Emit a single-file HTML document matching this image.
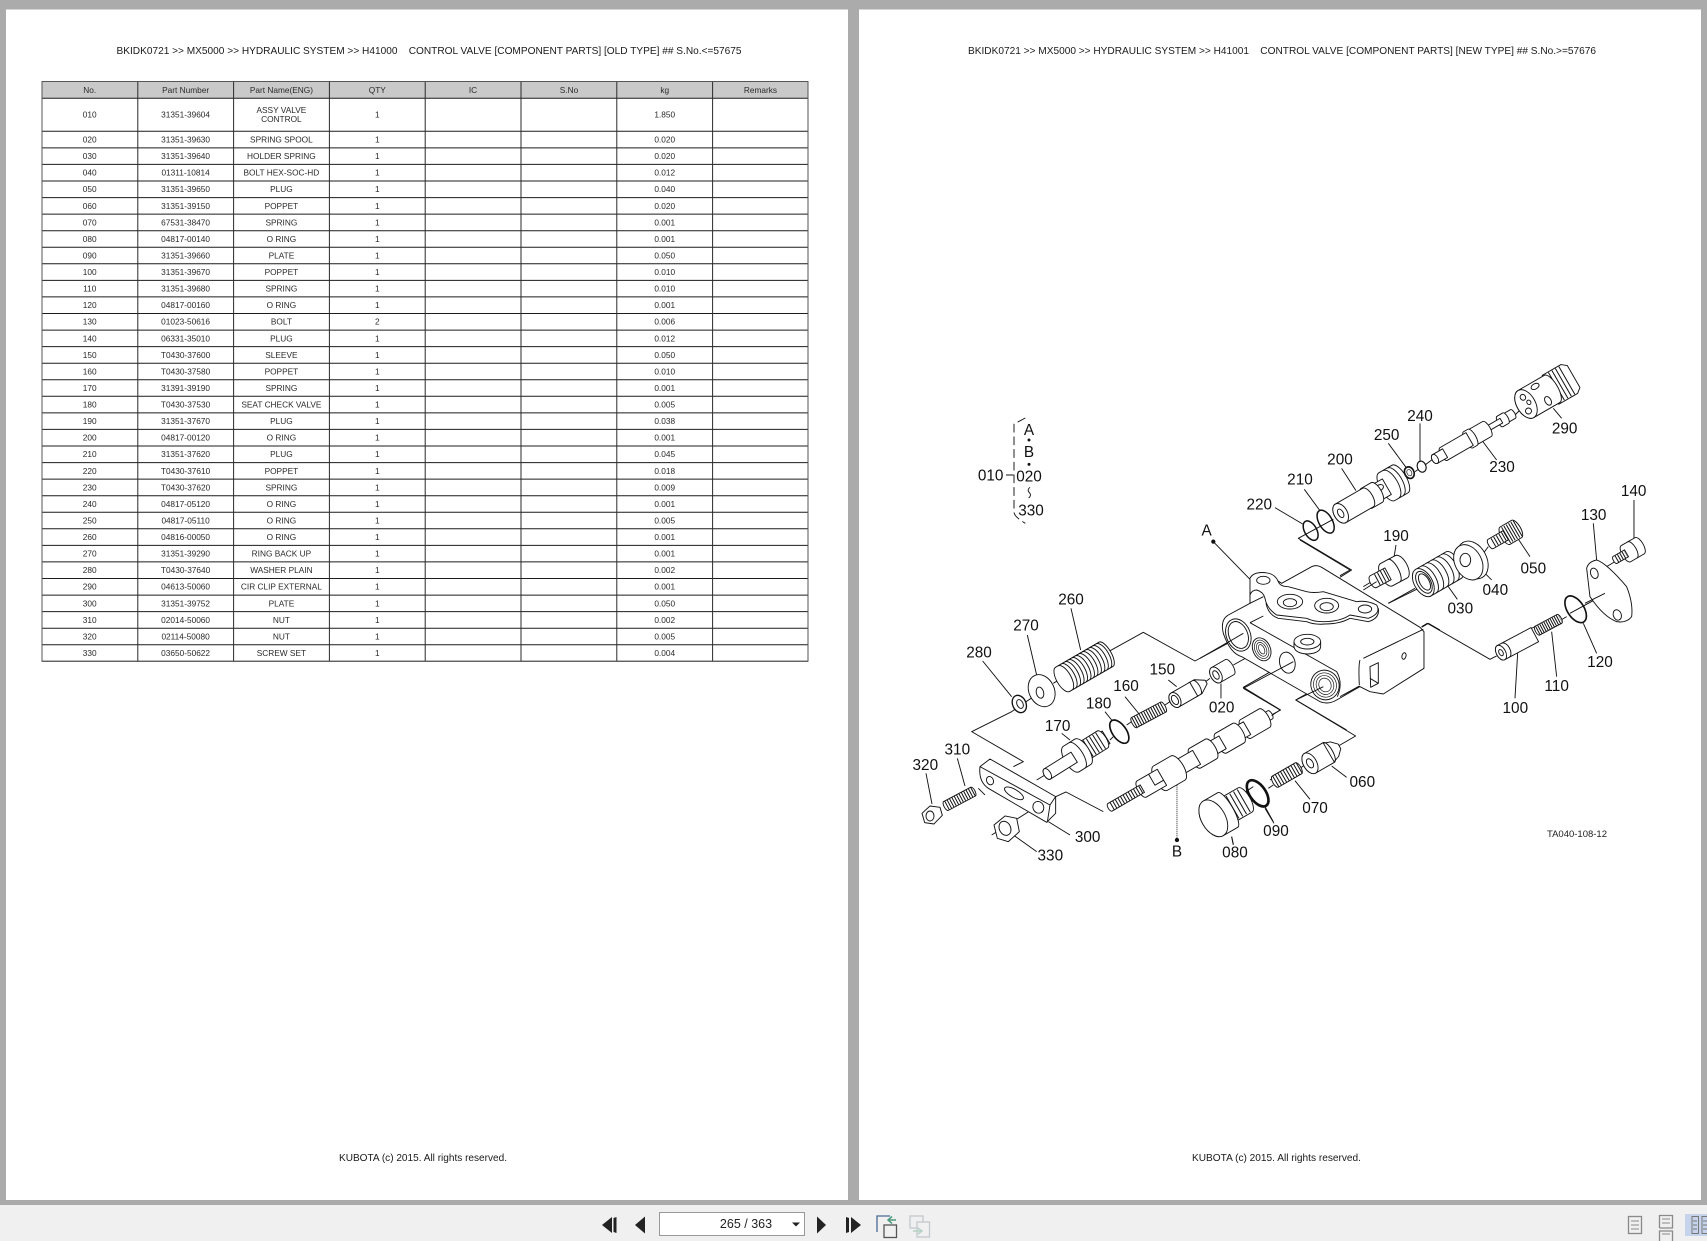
<!DOCTYPE html>
<html><head><meta charset="utf-8"><style>
html,body{margin:0;padding:0;width:1707px;height:1241px;overflow:hidden;background:#ababab}
svg{position:absolute;left:0;top:0;filter:blur(.3px)}
text{font-family:"Liberation Sans",sans-serif}
.t text{font-size:8.3px;fill:#2a2a2a;text-anchor:middle}
.h{font-size:10.4px;fill:#1a1a1a}
.d path,.d ellipse,.d circle,.d polygon{fill:#fff;stroke:#111;stroke-width:2.8;stroke-linejoin:round}
.d .n{fill:none}
.d .k{fill:none;stroke-width:5}
.d .x{fill:none;stroke-width:8}
.d text{font-size:46px;fill:#111;text-anchor:middle;stroke:none}
</style></head><body>
<svg width="1707" height="1241" viewBox="0 0 1707 1241" xmlns="http://www.w3.org/2000/svg">
<rect x="6" y="9.500" width="842" height="1190.500" fill="#fff"/>
<rect x="859" y="9.500" width="842" height="1190.500" fill="#fff"/>
<rect x="0" y="1205" width="1707" height="36" fill="#f0f0f0"/>

<text class="h" x="116.500" y="54" textLength="625" lengthAdjust="spacingAndGlyphs">BKIDK0721 &gt;&gt; MX5000 &gt;&gt; HYDRAULIC SYSTEM &gt;&gt; H41000&#160;&#160;&#160; CONTROL VALVE [COMPONENT PARTS] [OLD TYPE] ## S.No.&lt;=57675</text>
<text class="h" x="968" y="54" textLength="628" lengthAdjust="spacingAndGlyphs">BKIDK0721 &gt;&gt; MX5000 &gt;&gt; HYDRAULIC SYSTEM &gt;&gt; H41001&#160;&#160;&#160; CONTROL VALVE [COMPONENT PARTS] [NEW TYPE] ## S.No.&gt;=57676</text>
<text class="h" x="339" y="1161" textLength="168" lengthAdjust="spacingAndGlyphs">KUBOTA (c) 2015. All rights reserved.</text>
<text class="h" x="1192" y="1161" textLength="169" lengthAdjust="spacingAndGlyphs">KUBOTA (c) 2015. All rights reserved.</text>

<rect x="42" y="81.500" width="766" height="17" fill="#c9c9c9"/>
<path fill="none" stroke="#1c1c1c" stroke-width="1" d="M42 98.300H808M42 131.300H808M42 147.900H808M42 164.400H808M42 181H808M42 197.600H808M42 214.100H808M42 230.700H808M42 247.200H808M42 263.800H808M42 280.400H808M42 296.900H808M42 313.500H808M42 330.100H808M42 346.600H808M42 363.200H808M42 379.800H808M42 396.300H808M42 412.900H808M42 429.400H808M42 446H808M42 462.600H808M42 479.100H808M42 495.700H808M42 512.300H808M42 528.800H808M42 545.400H808M42 561.900H808M42 578.500H808M42 595.100H808M42 611.600H808M42 628.200H808M42 644.800H808M42 661.300H808"/>
<path fill="none" stroke="#2a2a2a" stroke-width="1" d="M137.800 81.500V661.300M233.600 81.500V661.300M329.400 81.500V661.300M425.200 81.500V661.300M521 81.500V661.300M616.800 81.500V661.300M712.600 81.500V661.300"/>
<path fill="none" stroke="#555" stroke-width="1" d="M42 81.500H808V661.300H42Z"/>
<g class="t">
<text y="92.800"><tspan x="89.700">No.</tspan><tspan x="185.600">Part Number</tspan><tspan x="281.400">Part Name(ENG)</tspan><tspan x="377.300">QTY</tspan><tspan x="473">IC</tspan><tspan x="569">S.No</tspan><tspan x="664.700">kg</tspan><tspan x="760.500">Remarks</tspan></text>
<text y="117.500"><tspan x="89.700">010</tspan><tspan x="185.600">31351-39604</tspan><tspan x="377.300">1</tspan><tspan x="664.700">1.850</tspan></text>
<text x="281.400" y="113">ASSY VALVE</text><text x="281.400" y="122">CONTROL</text>
<text y="142.500"><tspan x="89.700">020</tspan><tspan x="185.600">31351-39630</tspan><tspan x="281.400">SPRING SPOOL</tspan><tspan x="377.300">1</tspan><tspan x="664.700">0.020</tspan></text>
<text y="159.100"><tspan x="89.700">030</tspan><tspan x="185.600">31351-39640</tspan><tspan x="281.400">HOLDER SPRING</tspan><tspan x="377.300">1</tspan><tspan x="664.700">0.020</tspan></text>
<text y="175.600"><tspan x="89.700">040</tspan><tspan x="185.600">01311-10814</tspan><tspan x="281.400">BOLT HEX-SOC-HD</tspan><tspan x="377.300">1</tspan><tspan x="664.700">0.012</tspan></text>
<text y="192.200"><tspan x="89.700">050</tspan><tspan x="185.600">31351-39650</tspan><tspan x="281.400">PLUG</tspan><tspan x="377.300">1</tspan><tspan x="664.700">0.040</tspan></text>
<text y="208.800"><tspan x="89.700">060</tspan><tspan x="185.600">31351-39150</tspan><tspan x="281.400">POPPET</tspan><tspan x="377.300">1</tspan><tspan x="664.700">0.020</tspan></text>
<text y="225.300"><tspan x="89.700">070</tspan><tspan x="185.600">67531-38470</tspan><tspan x="281.400">SPRING</tspan><tspan x="377.300">1</tspan><tspan x="664.700">0.001</tspan></text>
<text y="241.900"><tspan x="89.700">080</tspan><tspan x="185.600">04817-00140</tspan><tspan x="281.400">O RING</tspan><tspan x="377.300">1</tspan><tspan x="664.700">0.001</tspan></text>
<text y="258.400"><tspan x="89.700">090</tspan><tspan x="185.600">31351-39660</tspan><tspan x="281.400">PLATE</tspan><tspan x="377.300">1</tspan><tspan x="664.700">0.050</tspan></text>
<text y="275"><tspan x="89.700">100</tspan><tspan x="185.600">31351-39670</tspan><tspan x="281.400">POPPET</tspan><tspan x="377.300">1</tspan><tspan x="664.700">0.010</tspan></text>
<text y="291.600"><tspan x="89.700">110</tspan><tspan x="185.600">31351-39680</tspan><tspan x="281.400">SPRING</tspan><tspan x="377.300">1</tspan><tspan x="664.700">0.010</tspan></text>
<text y="308.100"><tspan x="89.700">120</tspan><tspan x="185.600">04817-00160</tspan><tspan x="281.400">O RING</tspan><tspan x="377.300">1</tspan><tspan x="664.700">0.001</tspan></text>
<text y="324.700"><tspan x="89.700">130</tspan><tspan x="185.600">01023-50616</tspan><tspan x="281.400">BOLT</tspan><tspan x="377.300">2</tspan><tspan x="664.700">0.006</tspan></text>
<text y="341.300"><tspan x="89.700">140</tspan><tspan x="185.600">06331-35010</tspan><tspan x="281.400">PLUG</tspan><tspan x="377.300">1</tspan><tspan x="664.700">0.012</tspan></text>
<text y="357.800"><tspan x="89.700">150</tspan><tspan x="185.600">T0430-37600</tspan><tspan x="281.400">SLEEVE</tspan><tspan x="377.300">1</tspan><tspan x="664.700">0.050</tspan></text>
<text y="374.400"><tspan x="89.700">160</tspan><tspan x="185.600">T0430-37580</tspan><tspan x="281.400">POPPET</tspan><tspan x="377.300">1</tspan><tspan x="664.700">0.010</tspan></text>
<text y="390.900"><tspan x="89.700">170</tspan><tspan x="185.600">31391-39190</tspan><tspan x="281.400">SPRING</tspan><tspan x="377.300">1</tspan><tspan x="664.700">0.001</tspan></text>
<text y="407.500"><tspan x="89.700">180</tspan><tspan x="185.600">T0430-37530</tspan><tspan x="281.400">SEAT CHECK VALVE</tspan><tspan x="377.300">1</tspan><tspan x="664.700">0.005</tspan></text>
<text y="424.100"><tspan x="89.700">190</tspan><tspan x="185.600">31351-37670</tspan><tspan x="281.400">PLUG</tspan><tspan x="377.300">1</tspan><tspan x="664.700">0.038</tspan></text>
<text y="440.600"><tspan x="89.700">200</tspan><tspan x="185.600">04817-00120</tspan><tspan x="281.400">O RING</tspan><tspan x="377.300">1</tspan><tspan x="664.700">0.001</tspan></text>
<text y="457.200"><tspan x="89.700">210</tspan><tspan x="185.600">31351-37620</tspan><tspan x="281.400">PLUG</tspan><tspan x="377.300">1</tspan><tspan x="664.700">0.045</tspan></text>
<text y="473.800"><tspan x="89.700">220</tspan><tspan x="185.600">T0430-37610</tspan><tspan x="281.400">POPPET</tspan><tspan x="377.300">1</tspan><tspan x="664.700">0.018</tspan></text>
<text y="490.300"><tspan x="89.700">230</tspan><tspan x="185.600">T0430-37620</tspan><tspan x="281.400">SPRING</tspan><tspan x="377.300">1</tspan><tspan x="664.700">0.009</tspan></text>
<text y="506.900"><tspan x="89.700">240</tspan><tspan x="185.600">04817-05120</tspan><tspan x="281.400">O RING</tspan><tspan x="377.300">1</tspan><tspan x="664.700">0.001</tspan></text>
<text y="523.400"><tspan x="89.700">250</tspan><tspan x="185.600">04817-05110</tspan><tspan x="281.400">O RING</tspan><tspan x="377.300">1</tspan><tspan x="664.700">0.005</tspan></text>
<text y="540"><tspan x="89.700">260</tspan><tspan x="185.600">04816-00050</tspan><tspan x="281.400">O RING</tspan><tspan x="377.300">1</tspan><tspan x="664.700">0.001</tspan></text>
<text y="556.600"><tspan x="89.700">270</tspan><tspan x="185.600">31351-39290</tspan><tspan x="281.400">RING BACK UP</tspan><tspan x="377.300">1</tspan><tspan x="664.700">0.001</tspan></text>
<text y="573.100"><tspan x="89.700">280</tspan><tspan x="185.600">T0430-37640</tspan><tspan x="281.400">WASHER PLAIN</tspan><tspan x="377.300">1</tspan><tspan x="664.700">0.002</tspan></text>
<text y="589.700"><tspan x="89.700">290</tspan><tspan x="185.600">04613-50060</tspan><tspan x="281.400">CIR CLIP EXTERNAL</tspan><tspan x="377.300">1</tspan><tspan x="664.700">0.001</tspan></text>
<text y="606.300"><tspan x="89.700">300</tspan><tspan x="185.600">31351-39752</tspan><tspan x="281.400">PLATE</tspan><tspan x="377.300">1</tspan><tspan x="664.700">0.050</tspan></text>
<text y="622.800"><tspan x="89.700">310</tspan><tspan x="185.600">02014-50060</tspan><tspan x="281.400">NUT</tspan><tspan x="377.300">1</tspan><tspan x="664.700">0.002</tspan></text>
<text y="639.400"><tspan x="89.700">320</tspan><tspan x="185.600">02114-50080</tspan><tspan x="281.400">NUT</tspan><tspan x="377.300">1</tspan><tspan x="664.700">0.005</tspan></text>
<text y="655.900"><tspan x="89.700">330</tspan><tspan x="185.600">03650-50622</tspan><tspan x="281.400">SCREW SET</tspan><tspan x="377.300">1</tspan><tspan x="664.700">0.004</tspan></text>
</g>

<!-- Z2: upper-left callouts -->
<g class="d" transform="translate(960,360) scale(.3333)">
<path class="n" stroke-dasharray="26 12" d="M196 174L162 192V456Q162 470 196 490"/>
<path class="n" d="M138 345H160M945 443L1028 492M1033 388L1080 452M1145 325L1188 392M760 545L870 658"/>
<circle cx="207" cy="240" r="3" style="fill:#111"/><circle cx="207" cy="313" r="3" style="fill:#111"/><circle cx="760" cy="545" r="5" style="fill:#111"/>
<path class="n" d="M210 382Q200 390 208 398Q216 405 206 414"/>
<path class="n" d="M1120 478L1015 535L1175 630L1140 652"/>
<ellipse class="k" style="stroke-width:4.500" cx="1052" cy="512" rx="18" ry="32" transform="rotate(-30 1052 512)"/>
<ellipse class="k" style="stroke-width:4.500" cx="1097" cy="485" rx="20" ry="38" transform="rotate(-30 1097 485)"/>
<text x="92" y="361">010</text><text x="207" y="364">020</text><text x="213" y="467">330</text>
<text x="207" y="225">A</text><text x="207" y="291">B</text>
<text x="898" y="449">220</text><text x="1020" y="374">210</text><text x="1140" y="314">200</text><text x="740" y="527">A</text>
</g>

<!-- Z10: part 200 -->
<g class="d" transform="translate(1270,420) scale(.3333)">
<g transform="translate(212,280) rotate(-30)">
<path d="M160 -48H205A20 48 0 0 1 205 48H160A20 48 0 0 1 160 -48Z"/>
<path class="n" d="M175 -47A20 47 0 0 1 175 47M190 -47A20 47 0 0 1 190 47"/>
<path d="M120 -27H160V27H120Z"/>
<ellipse cx="138" cy="-8" rx="14" ry="9"/>
<path d="M90 -34H125A14 34 0 0 1 125 34H90A14 34 0 0 1 90 -34Z"/>
<path d="M0 -32H95A14 32 0 0 1 95 32H0A20 32 0 0 1 0 -32Z"/>
<ellipse cx="0" cy="0" rx="20" ry="32"/><ellipse cx="0" cy="0" rx="8" ry="14"/>
</g>
</g>

<!-- Z3: right parts -->
<g class="d" transform="translate(1340,360) scale(.3333)">
<path class="n" d="M640 145L665 175M425 240L470 300M145 250L198 322M240 190V305M533 880L525 1015M635 815L650 950M730 790L770 880M760 490L770 600M882 420V535M530 530L570 590M420 625L455 660M325 680L352 718M168 555L160 605M262 790L450 898L470 888M245 800L262 790M800 700L690 760M525 165L540 150M255 315L275 300M225 335L235 328M430 580L445 560M340 625L360 610M145 730L225 685M70 680L95 665M585 800L555 815M680 770L660 782M825 605L800 620"/>
<g transform="translate(558,132) rotate(-30)">
<path d="M85 -50H150L165 -38V38L150 50H85Z"/>
<path class="n" style="stroke-width:96;stroke-dasharray:3 9" d="M92 0H150"/>
<path d="M0 -47H90A18 47 0 0 1 90 47H0A28 47 0 0 1 0 -47Z"/>
<ellipse cx="0" cy="0" rx="28" ry="47"/>
<ellipse cx="2" cy="-22" rx="8" ry="9"/><ellipse cx="-4" cy="22" rx="9" ry="9"/><ellipse cx="10" cy="0" rx="6" ry="7"/>
<ellipse cx="50" cy="-32" rx="13" ry="8"/><ellipse cx="62" cy="25" rx="9" ry="14"/>
</g>
<g transform="translate(285,297) rotate(-30)">
<path d="M235 -15H270A6 15 0 0 1 270 15H235Z"/>
<path d="M225 -18H245A7 18 0 0 1 245 18H225A7 18 0 0 1 225 -18Z"/>
<path d="M180 -8H230V8H180Z"/>
<path d="M125 -26H180A10 26 0 0 1 180 26H125A10 26 0 0 1 125 -26Z"/>
<path d="M115 -28H130A10 28 0 0 1 130 28H115A10 28 0 0 1 115 -28Z"/>
<path d="M30 -22H120V22H30A9 22 0 0 1 30 -22Z"/>
<path d="M0 -15H35V15H0A9 15 0 0 1 0 -15Z"/>
<ellipse cx="0" cy="0" rx="9" ry="15"/>
</g>
<ellipse class="k" style="stroke-width:3.500" cx="245" cy="320" rx="13" ry="17" transform="rotate(-20 245 320)"/>
<ellipse class="k" cx="208" cy="338" rx="14" ry="18" transform="rotate(-25 208 338)"/>
<ellipse class="n" style="stroke-width:2" cx="208" cy="338" rx="7" ry="10" transform="rotate(-25 208 338)"/>
<g transform="translate(100,665) rotate(-28)">
<path d="M45 -38H95A18 38 0 0 1 95 38H45A18 38 0 0 1 45 -38Z"/>
<path class="n" d="M70 -38A14 38 0 0 1 70 38"/>
<path d="M0 -20H50V20H0A10 20 0 0 1 0 -20Z"/>
<path class="n" style="stroke-width:36;stroke-dasharray:3 7" d="M12 0H50"/>
</g>
<g transform="translate(250,668) rotate(-30)">
<path d="M0 -46H105A20 46 0 0 1 105 46H0A26 46 0 0 1 0 -46Z"/>
<path class="n" d="M18 -46A22 46 0 0 1 18 46M36 -46A22 46 0 0 1 36 46M54 -46A22 46 0 0 1 54 46M72 -46A22 46 0 0 1 72 46M90 -46A22 46 0 0 1 90 46"/>
<ellipse cx="0" cy="0" rx="27" ry="46"/><ellipse class="n" cx="2" cy="0" rx="20" ry="36"/><ellipse class="n" cx="4" cy="0" rx="14" ry="27"/>
</g>
<ellipse cx="398" cy="600" rx="42" ry="60" transform="rotate(-28 398 600)"/>
<ellipse cx="385" cy="607" rx="40" ry="56" transform="rotate(-28 385 607)"/>
<ellipse cx="376" cy="600" rx="16" ry="20"/>
<g transform="translate(452,552) rotate(-30)">
<path d="M50 -30H90A12 30 0 0 1 90 30H50A12 30 0 0 1 50 -30Z"/>
<path class="n" style="stroke-width:54;stroke-dasharray:3 5" d="M52 0H96"/>
<path d="M0 -16H52V16H0A7 16 0 0 1 0 -16Z"/>
<path class="n" style="stroke-width:28;stroke-dasharray:3 6" d="M8 0H50"/>
</g>
<ellipse class="k" cx="707" cy="748" rx="25" ry="45" transform="rotate(-33 707 748)"/>
<g transform="translate(592,812) rotate(-28)">
<path d="M0 -15H75A6 15 0 0 1 75 15H0A6 15 0 0 1 0 -15Z"/>
<path class="n" style="stroke-width:30;stroke-dasharray:3 4" d="M0 0H78"/>
</g>
<g transform="translate(483,878) rotate(-28)">
<path d="M0 -24H115V24H0A14 24 0 0 1 0 -24Z"/>
<path class="n" d="M15 -24A14 24 0 0 1 15 24"/>
<ellipse cx="0" cy="0" rx="14" ry="24"/><ellipse cx="0" cy="0" rx="6" ry="10"/>
</g>
<path d="M740 625Q745 605 770 600Q800 610 860 680Q880 730 875 770Q860 790 830 785Q790 770 750 710Z"/>
<ellipse cx="763" cy="640" rx="11" ry="16" transform="rotate(-20 763 640)"/><ellipse cx="832" cy="765" rx="12" ry="16" transform="rotate(-20 832 765)"/>
<path class="n" d="M735 730L795 700"/>
<g transform="translate(825,600) rotate(-30)">
<path d="M38 -28H85A12 28 0 0 1 85 28H38A12 28 0 0 1 38 -28Z"/>
<path class="n" d="M60 -28A12 28 0 0 1 60 28"/>
<path d="M0 -12H40V12H0A5 12 0 0 1 0 -12Z"/>
<path class="n" style="stroke-width:22;stroke-dasharray:3 5" d="M5 0H38"/>
</g>
<text x="240" y="183">240</text><text x="140" y="240">250</text><text x="674" y="221">290</text><text x="486" y="336">230</text>
<text x="881" y="408">140</text><text x="761" y="480">130</text><text x="168" y="543">190</text><text x="580" y="640">050</text>
<text x="466" y="705">040</text><text x="361" y="761">030</text><text x="780" y="921">120</text><text x="650" y="993">110</text><text x="526" y="1059">100</text>
</g>

<!-- Z4: lower-left parts -->
<g class="d" transform="translate(910,580) scale(.3333)">
<path class="n" d="M483 85L512 210M352 165L380 285M218 243L305 350M645 350L690 405M585 395L605 420M455 460L480 480M142 535L165 618M48 580L66 672M933 310V355M480 765L415 725M380 815L310 765M1090 725L1065 680M965 770L970 795M775 300L800 320"/>
<path class="n" d="M385 340L305 395L185 455L340 545L310 560M380 600L405 585M437 650L468 636L580 695M1075 410L1112 390L1000 322L1125 250M595 215L700 157L855 243L1000 165M430 310L470 285M650 435L665 425M765 375L780 365M880 310L900 295M600 480L610 470M225 645L205 625M245 765L380 680M1000 640L1030 620M1080 600L1095 590"/>
<path class="n" style="stroke-dasharray:3 3" d="M801 610V775"/>
<circle cx="801" cy="780" r="5" style="fill:#111"/>
<g transform="translate(458,298) rotate(-30)">
<path d="M0 -42H150A16 42 0 0 1 150 42H0A18 42 0 0 1 0 -42Z"/>
<path class="n" d="M8 -42A18 42 0 0 1 8 42M20 -42A18 42 0 0 1 20 42M32 -42A18 42 0 0 1 32 42M44 -42A18 42 0 0 1 44 42M56 -42A18 42 0 0 1 56 42M68 -42A18 42 0 0 1 68 42M80 -42A18 42 0 0 1 80 42M92 -42A18 42 0 0 1 92 42M104 -42A18 42 0 0 1 104 42M116 -42A18 42 0 0 1 116 42M128 -42A18 42 0 0 1 128 42M140 -42A18 42 0 0 1 140 42"/>
</g>
<ellipse cx="395" cy="332" rx="38" ry="50" transform="rotate(-25 395 332)"/>
<ellipse cx="390" cy="338" rx="11" ry="17" transform="rotate(-15 390 338)"/>
<ellipse cx="328" cy="372" rx="20" ry="27" transform="rotate(-25 328 372)" style="stroke-width:4"/>
<ellipse class="n" cx="330" cy="372" rx="9" ry="14" transform="rotate(-25 330 372)"/>
<g transform="translate(412,582) rotate(-32)">
<path d="M190 -22H208V22H190Z"/>
<path d="M130 -30H195A12 30 0 0 1 195 30H130Z"/>
<path class="n" style="stroke-width:56;stroke-dasharray:3 8" d="M132 0H194"/>
<path d="M85 -45H125A20 45 0 0 1 125 45H85A20 45 0 0 1 85 -45Z"/>
<path class="n" d="M105 -45A18 45 0 0 1 105 45"/>
<path d="M0 -18H95V18H0A10 18 0 0 1 0 -18Z"/>
<ellipse cx="0" cy="0" rx="10" ry="18"/>
</g>
<ellipse class="k" cx="628" cy="455" rx="21" ry="40" transform="rotate(-35 628 455)"/>
<g transform="translate(672,428) rotate(-28)">
<path d="M0 -17H100A6 17 0 0 1 100 17H0A6 17 0 0 1 0 -17Z"/>
<path class="n" style="stroke-width:34;stroke-dasharray:3 5" d="M0 0H104"/>
</g>
<g transform="translate(795,360) rotate(-30)">
<path d="M60 -24H80L108 -6V6L80 24H60Z"/>
<path class="n" d="M75 -24A10 24 0 0 1 75 24"/>
<path d="M0 -24H65V24H0A16 24 0 0 1 0 -24Z"/>
<ellipse cx="0" cy="0" rx="16" ry="24"/><ellipse class="n" cx="0" cy="0" rx="9" ry="15"/>
</g>
<g transform="translate(918,285) rotate(-30)">
<path d="M0 -26H48A10 26 0 0 1 48 26H0A16 26 0 0 1 0 -26Z"/>
<ellipse cx="0" cy="0" rx="16" ry="26"/><ellipse cx="0" cy="0" rx="8" ry="14"/>
</g>
<g transform="translate(600,682) rotate(-30)">
<path d="M530 -14H555A6 14 0 0 1 555 14H530Z"/>
<path d="M470 -32H535A13 32 0 0 1 535 32H470A13 32 0 0 1 470 -32Z"/>
<path d="M440 -22H475V22H440Z"/>
<path d="M385 -34H445A14 34 0 0 1 445 34H385A14 34 0 0 1 385 -34Z"/>
<path d="M345 -22H390V22H345Z"/>
<path d="M295 -34H350A14 34 0 0 1 350 34H295A14 34 0 0 1 295 -34Z"/>
<path d="M230 -24H300V24H230Z"/>
<path d="M175 -42H235A18 42 0 0 1 235 42H175A18 42 0 0 1 175 -42Z"/>
<path d="M110 -28H180V28H110A12 28 0 0 1 110 -28Z"/>
<path class="n" d="M150 -28V10H180"/>
<path d="M0 -13H112V13H0A6 13 0 0 1 0 -13Z"/>
<path class="n" style="stroke-width:24;stroke-dasharray:3 6" d="M6 0H110"/>
</g>
<path d="M210 560L240 537L437 650V700L410 727L235 625Q205 605 210 560Z"/>
<path class="n" d="M210 560L420 675L412 727M420 675L437 650"/>
<ellipse cx="240" cy="602" rx="10" ry="13" transform="rotate(-25 240 602)"/>
<ellipse cx="385" cy="682" rx="16" ry="18" transform="rotate(-25 385 682)"/>
<ellipse cx="312" cy="640" rx="32" ry="12" transform="rotate(30 312 640)"/>
<g transform="translate(108,678) rotate(-28)">
<path d="M0 -15H92A6 15 0 0 1 92 15H0A6 15 0 0 1 0 -15Z"/>
<path class="n" style="stroke-width:28;stroke-dasharray:3 5" d="M2 0H94"/>
</g>
<polygon points="36,700 60,678 90,682 97,706 72,732 44,728"/>
<ellipse cx="60" cy="708" rx="12" ry="15"/>
<polygon points="252,735 285,708 320,715 328,755 295,785 262,775"/>
<ellipse cx="285" cy="745" rx="17" ry="22" transform="rotate(-25 285 745)"/>
<text x="483" y="74">260</text><text x="348" y="151">270</text><text x="207" y="233">280</text><text x="757" y="284">150</text>
<text x="648" y="333">160</text><text x="566" y="386">180</text><text x="443" y="453">170</text><text x="142" y="523">310</text>
<text x="46" y="570">320</text><text x="935" y="398">020</text><text x="533" y="786">300</text><text x="421" y="841">330</text>
<text x="1098" y="768">090</text><text x="975" y="833">080</text><text x="801" y="830">B</text>
</g>

<!-- Z5: 060–090 -->
<g class="d" transform="translate(1130,640) scale(.3333)">
<path class="n" d="M605 378L650 412M495 422L540 478M405 505L432 550M305 590L310 612M625 318L677 288L497 180L550 150M345 485L355 480M415 445L430 435M510 385L520 378"/>
<g transform="translate(250,535) rotate(-30)">
<path d="M45 -42H110A16 42 0 0 1 110 42H45Z"/>
<path class="n" style="stroke-width:78;stroke-dasharray:3 10" d="M52 0H112"/>
<path d="M0 -60H50A16 60 0 0 1 50 60H0A36 60 0 0 1 0 -60Z"/>
<ellipse cx="0" cy="0" rx="36" ry="60"/>
</g>
<ellipse class="x" cx="383" cy="460" rx="24" ry="45" transform="rotate(-35 383 460)"/>
<g transform="translate(436,425) rotate(-30)">
<path d="M0 -19H80A8 19 0 0 1 80 19H0A8 19 0 0 1 0 -19Z"/>
<path class="n" style="stroke-width:38;stroke-dasharray:3 6" d="M0 0H84"/>
</g>
<g transform="translate(540,370) rotate(-30)">
<path d="M60 -34L85 -25L102 -8V8L85 25L60 34Z"/>
<path d="M0 -34H65V34H0A20 34 0 0 1 0 -34Z"/>
<ellipse cx="0" cy="0" rx="20" ry="34"/><ellipse class="n" cx="0" cy="0" rx="9" ry="15"/>
<path class="n" d="M65 -34A12 34 0 0 1 65 34"/>
</g>
<text x="697" y="441">060</text><text x="555" y="519">070</text>
</g>

<!-- Z9: valve body -->
<g class="d" transform="translate(1200,540) scale(.3333)">
<path class="n" d="M300 0L450 90L420 107M565 190L650 148M490 150L530 125M665 262L685 250L720 270M0 355L130 280M100 375L190 325"/>
<path d="M150 190V115Q160 95 195 98L245 130L335 80Q350 73 365 82L660 262L672 275V385L550 462L510 455L480 440L410 480Q385 495 360 485L125 350Q90 340 70 280Q60 240 85 225Z"/>
<path class="n" d="M150 248L410 395Q430 430 412 470M490 355L670 268M480 360Q475 375 478 435M150 248L190 228M420 470L478 438M430 465L480 438"/>
<path d="M150 115Q160 95 195 98Q225 100 235 125Q240 140 265 140L320 155Q340 160 370 155L470 185Q500 180 530 195Q545 220 505 235L450 225Q420 245 370 245Q340 245 320 235L230 225Q200 205 195 175Q190 155 170 150Q155 150 150 165V190L190 170"/>
<path class="n" d="M198 190Q205 225 235 235L320 245Q345 255 375 252Q420 252 450 235L505 245Q540 235 535 205"/>
<ellipse cx="190" cy="121" rx="20" ry="12"/>
<ellipse cx="270" cy="185" rx="38" ry="22"/><ellipse cx="270" cy="188" rx="20" ry="12"/>
<ellipse cx="380" cy="197" rx="36" ry="22"/><ellipse cx="380" cy="200" rx="20" ry="12"/>
<ellipse cx="495" cy="207" rx="20" ry="12"/>
<ellipse cx="115" cy="285" rx="36" ry="50" transform="rotate(-22 115 285)"/>
<ellipse cx="115" cy="285" rx="28" ry="42" transform="rotate(-22 115 285)"/>
<path class="n" d="M130 280L70 315"/>
<ellipse cx="185" cy="328" rx="26" ry="36" transform="rotate(-25 185 328)"/>
<ellipse class="n" style="stroke-width:2" cx="185" cy="328" rx="20" ry="29" transform="rotate(-25 185 328)"/><ellipse class="n" style="stroke-width:2" cx="185" cy="328" rx="14" ry="22" transform="rotate(-25 185 328)"/><ellipse class="n" style="stroke-width:2" cx="185" cy="328" rx="8" ry="15" transform="rotate(-25 185 328)"/>
<ellipse cx="262" cy="368" rx="23" ry="32" transform="rotate(-15 262 368)"/>
<ellipse cx="375" cy="435" rx="42" ry="45" transform="rotate(-25 375 435)"/>
<ellipse class="n" style="stroke-width:2" cx="375" cy="435" rx="34" ry="37" transform="rotate(-25 375 435)"/><ellipse class="n" style="stroke-width:2" cx="375" cy="435" rx="26" ry="29" transform="rotate(-25 375 435)"/><ellipse class="n" style="stroke-width:2" cx="375" cy="435" rx="18" ry="21" transform="rotate(-25 375 435)"/>
<path class="n" d="M130 445L280 365M288 480L370 440M130 445L240 510L215 527M288 480L440 570"/>
<path d="M282 305V320Q285 340 322 342Q360 340 362 320V305"/>
<ellipse cx="322" cy="305" rx="40" ry="22"/><ellipse cx="322" cy="305" rx="20" ry="10"/>
<path d="M510 380L535 368V430L512 442Z"/>
<path class="n" d="M510 415L535 430"/>
<ellipse cx="612" cy="348" rx="6" ry="10" transform="rotate(15 612 348)"/>
</g>

<text x="1547" y="837" font-size="9" fill="#222" textLength="60" lengthAdjust="spacingAndGlyphs">TA040-108-12</text>

<!-- Toolbar -->
<g fill="#222">
<path d="M612 1217L602 1225L612 1233Z"/><path d="M613.500 1218L616.500 1217V1233L613.500 1232Z"/>
<path d="M645 1216.500L635 1225L645 1233.500Z"/>
<path d="M817 1216.500L826 1225L817 1233.500Z"/>
<path d="M846 1217L849 1218V1232L846 1233Z"/><path d="M851 1217L861 1225L851 1233Z"/>
</g>
<rect x="659.500" y="1212.500" width="145" height="23" fill="#fff" stroke="#9a9a9a"/>
<text x="746" y="1228" font-size="12.500" text-anchor="middle" fill="#222">265 / 363</text>
<path d="M792 1222.500H800L796 1226.500Z" fill="#222"/>
<g fill="none">
<path d="M877 1232V1216H890" stroke="#4a6a96" stroke-width="1.300"/>
<rect x="884" y="1225" width="12.500" height="12.500" fill="#f0f0f0" stroke="#555" stroke-width="1.300"/>
<path d="M896 1220H889M892 1216.500L888 1220L892 1223.500" stroke="#4f9a7e" stroke-width="1.500"/>
<rect x="910" y="1216" width="13" height="12" stroke="#c4c8cc" stroke-width="1.300"/>
<rect x="917" y="1222" width="12.500" height="15" fill="#f0f0f0" stroke="#c4c8cc" stroke-width="1.300"/>
<path d="M913 1231H921M918 1228L922 1231L918 1234" stroke="#b6d2c6" stroke-width="1.500"/>
<rect x="1628.500" y="1216.500" width="13" height="17" stroke="#8a8a8a" stroke-width="1.300"/>
<path d="M1631 1221H1639M1631 1225H1639M1631 1229H1639" stroke="#8a8a8a"/>
<path d="M1659.500 1228V1215.500H1672.500V1228H1659.500M1659.500 1241V1231H1672.500V1241" stroke="#8a8a8a" stroke-width="1.300"/>
<path d="M1662 1219H1670M1662 1223H1670M1662 1234H1670" stroke="#8a8a8a"/>
</g>
<rect x="1685" y="1214" width="22" height="22" fill="#c5d4ec"/>
<g fill="none" stroke="#777">
<rect x="1692" y="1216.500" width="6.500" height="17"/><rect x="1702" y="1216.500" width="6.500" height="17"/>
<path d="M1693 1221H1697M1693 1225H1697M1693 1229H1697M1703 1221H1707M1703 1225H1707M1703 1229H1707"/>
</g>
</svg>
</body></html>
